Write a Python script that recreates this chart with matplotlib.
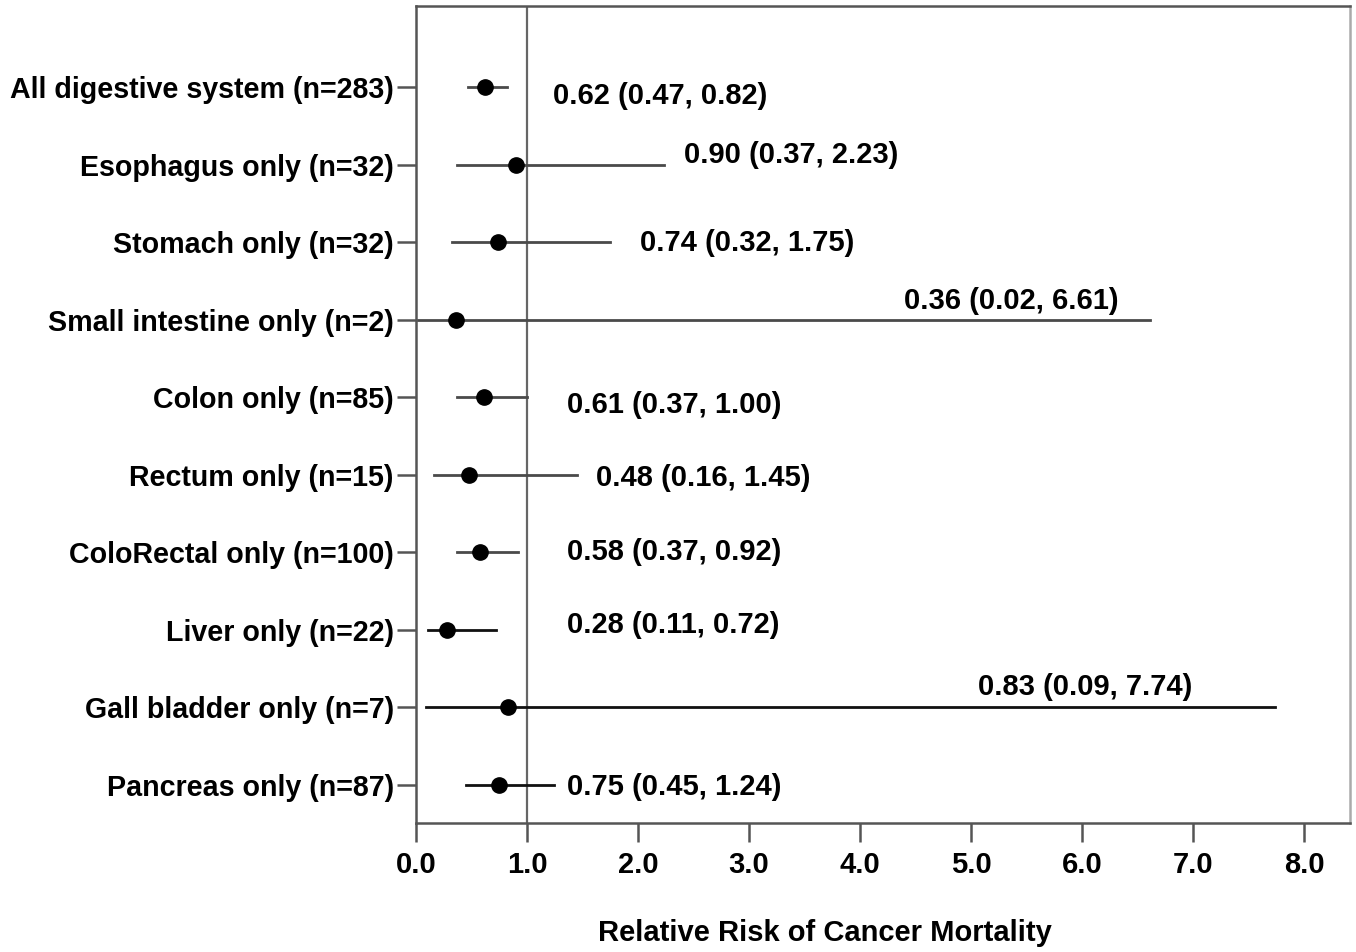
import matplotlib
matplotlib.use("Agg")
import matplotlib.pyplot as plt

categories = ["All digestive system (n=283)", "Esophagus only (n=32)", "Stomach only (n=32)",
              "Small intestine only (n=2)", "Colon only (n=85)", "Rectum only (n=15)",
              "ColoRectal only (n=100)", "Liver only (n=22)", "Gall bladder only (n=7)",
              "Pancreas only (n=87)"]
rr = [0.62, 0.90, 0.74, 0.36, 0.61, 0.48, 0.58, 0.28, 0.83, 0.75]
lower = [0.47, 0.37, 0.32, 0.02, 0.37, 0.16, 0.37, 0.11, 0.09, 0.45]
upper = [0.82, 2.23, 1.75, 6.61, 1.00, 1.45, 0.92, 0.72, 7.74, 1.24]
xticks = [0, 1, 2, 3, 4, 5, 6, 7, 8]

# layout of annotation text (data coords)
label_x = [1.23, 2.41, 2.02, 4.40, 1.36, 1.62, 1.36, 1.36, 5.06, 1.36]
label_dy = [0.11, -0.12, 0.01, -0.24, 0.10, 0.04, 0.0, -0.06, -0.27, 0.03]
line_colors = ["#4a4a4a"] * 7 + ["#111111"] * 3

plt.rcParams['font.family'] = ['Liberation Sans', 'DejaVu Sans']

fig = plt.figure(figsize=(13.56, 9.52), dpi=100)
ax = fig.add_axes([416/1356, 1-823/952, (1350-416)/1356, (823-6)/952])

ax.axvline(1.0, color="#666666", lw=1.6, zorder=1)
for i in range(len(categories)):
    ax.plot([lower[i], upper[i]], [i, i], color=line_colors[i], lw=2.0, zorder=2)
    ax.plot(rr[i], i, 'o', color='black', ms=11, zorder=3)
    ax.text(label_x[i], i + label_dy[i], f"{rr[i]:.2f} ({lower[i]:.2f}, {upper[i]:.2f})",
            fontsize=21, fontweight='bold', va='center', ha='left', color='black')

ax.set_xlim(0, 8.414)
ax.set_ylim(9.49, -1.045)
ax.set_xticks(xticks)
ax.set_xticklabels([f"{t:.1f}" for t in xticks], fontsize=21, fontweight='bold')
ax.set_yticks(range(len(categories)))
ax.set_yticklabels(categories, fontsize=20.6, fontweight='bold')
ax.tick_params(axis='both', length=14, width=1.8, color='#555555', pad=2)
ax.tick_params(axis='x', pad=6)
for s in ['left', 'top', 'bottom']:
    ax.spines[s].set_color('#555555')
    ax.spines[s].set_linewidth(1.8)
ax.spines['right'].set_color('#aaaaaa')
ax.spines['right'].set_linewidth(1.8)
ax.set_xlabel("Relative Risk of Cancer Mortality", fontsize=21, fontweight='bold')
ax.xaxis.set_label_coords(0.438, -0.117)

fig.savefig("out.png", dpi=100)
